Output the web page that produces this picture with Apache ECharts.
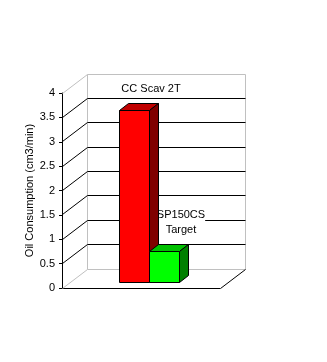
<!DOCTYPE html>
<html><head><meta charset="utf-8">
<script src="https://cdn.jsdelivr.net/npm/echarts@6/dist/echarts.min.js"></script>
<style>html,body{margin:0;padding:0;background:#fff}#c{width:327px;height:362px}</style>
</head><body><div id="c"></div>
<script>
// ---- data ----
const categories = [''];
const seriesNames = ['CC Scav 2T', 'SP150CS\nTarget'];
const seriesValues = [3.53, 0.64];
const yTicks = [0, 0.5, 1, 1.5, 2, 2.5, 3, 3.5, 4];
const yTitle = 'Oil Consumption (cm3/min)';

// ---- style ----
const FONT = "'Liberation Sans', Arial, sans-serif";
const frontColors = ['#ff0000', '#00ff00'];
const topColors = ['#c00000', '#00c000'];
const sideColors = ['#800000', '#008000'];
const DX = 25, DY = -19;      // wall depth offset
const BF = [8, -6], BB = [17, -13]; // bar front / back depth offsets
const BAR_FRAC = 0.19;
const crisp = v => Math.round(v - 0.5) + 0.5;

const chart = echarts.init(document.getElementById('c'), null, {renderer: 'canvas'});

function line(x1, y1, x2, y2, color) {
  return {type: 'line', shape: {x1: x1, y1: y1, x2: x2, y2: y2}, style: {stroke: color, lineWidth: 1}, silent: true};
}

function renderFrame(params, api) {
  const cs = params.coordSys;
  const v = api.value(1);
  const y = crisp(api.coord([0, v])[1]);
  const left = crisp(cs.x), right = crisp(cs.x + cs.width);
  const bottom = crisp(cs.y + cs.height), top = crisp(cs.y);
  const edge = (v === yTicks[0] || v === yTicks[yTicks.length - 1]);
  const col = edge ? '#c0c0c0' : '#000';
  const children = [
    line(left, y, left + DX, y + DY, col),
    line(left + DX, y + DY, right + DX, y + DY, col)
  ];
  if (params.dataIndex === 0) {
    children.push(line(left + DX, top + DY, left + DX, bottom + DY, '#c0c0c0'));
    children.push(line(right + DX, top + DY, right + DX, bottom + DY, '#c0c0c0'));
    children.push(line(right, bottom, right + DX, bottom + DY, '#000'));
  }
  return {type: 'group', children: children};
}

function barGeom(api, si) {
  const base = api.coord([api.value(0), 0]);
  const topP = api.coord([api.value(0), api.value(1)]);
  const w = api.size([1, 0])[0] * BAR_FRAC;
  const x0 = Math.round(base[0] - w + si * w), x1 = Math.round(x0 + w);
  return {x0: x0, x1: x1, yb: Math.round(base[1]), yt: Math.round(topP[1])};
}

function makeBarRender(si) {
  return function (params, api) {
    const g = barGeom(api, si);
    const x0 = g.x0, x1 = g.x1, yb = g.yb, yt = g.yt;
    const stroke = {stroke: '#000', lineWidth: 1, lineJoin: 'miter'};
    const P = (x, y, d) => [x + d[0] + 0.5, y + d[1] + 0.5];
    return {type: 'group', children: [
      {type: 'polygon', shape: {points: [P(x0, yt, BF), P(x1, yt, BF), P(x1, yt, BB), P(x0, yt, BB)]},
        style: Object.assign({fill: topColors[si]}, stroke)},
      {type: 'polygon', shape: {points: [P(x1, yt, BF), P(x1, yt, BB), P(x1, yb, BB), P(x1, yb, BF)]},
        style: Object.assign({fill: sideColors[si]}, stroke)},
      {type: 'polygon', shape: {points: [P(x0, yt, BF), P(x1, yt, BF), P(x1, yb, BF), P(x0, yb, BF)]},
        style: Object.assign({fill: frontColors[si]}, stroke)}
    ]};
  };
}

function renderLabel(params, api) {
  const si = api.value(2);
  const g = barGeom(api, si);
  return {type: 'text', style: {
    text: seriesNames[si], x: (g.x0 + g.x1) / 2 + BF[0] + 17, y: g.yt + BB[1] - 7,
    align: 'center', verticalAlign: 'bottom', fill: '#000',
    font: '11px ' + FONT, lineHeight: 15, backgroundColor: '#fff'
  }};
}

const series = [{
  type: 'custom', name: 'frame', renderItem: renderFrame, silent: true, z: 1,
  data: yTicks.map(v => [0, v]), encode: {x: 0, y: 1}
}, {
  type: 'custom', name: 'labels', renderItem: renderLabel, silent: true, z: 2,
  data: seriesValues.map((v, i) => [0, v, i]), encode: {x: 0, y: 1}
}];
seriesNames.forEach((n, i) => {
  series.push({
    type: 'custom', name: n, renderItem: makeBarRender(i), z: 3 + i,
    data: [[0, seriesValues[i]]], encode: {x: 0, y: 1}
  });
});

chart.setOption({
  animation: false,
  backgroundColor: '#fff',
  grid: {left: 62, top: 93, width: 158, height: 195},
  xAxis: {
    type: 'category', data: categories,
    axisLine: {show: true, lineStyle: {color: '#000', width: 1}},
    axisTick: {show: false}, axisLabel: {show: false}, splitLine: {show: false}
  },
  yAxis: {
    type: 'value', min: yTicks[0], max: yTicks[yTicks.length - 1], interval: yTicks[1] - yTicks[0],
    axisLine: {show: true, lineStyle: {color: '#000', width: 1}},
    axisTick: {show: true, length: 3, lineStyle: {color: '#000'}},
    axisLabel: {color: '#000', fontSize: 11, fontFamily: FONT, margin: 7, formatter: v => String(v)},
    splitLine: {show: false},
    name: yTitle, nameLocation: 'middle', nameGap: 26,
    nameTextStyle: {color: '#000', fontSize: 11, fontFamily: FONT}
  },
  series: series
});
</script></body></html>
